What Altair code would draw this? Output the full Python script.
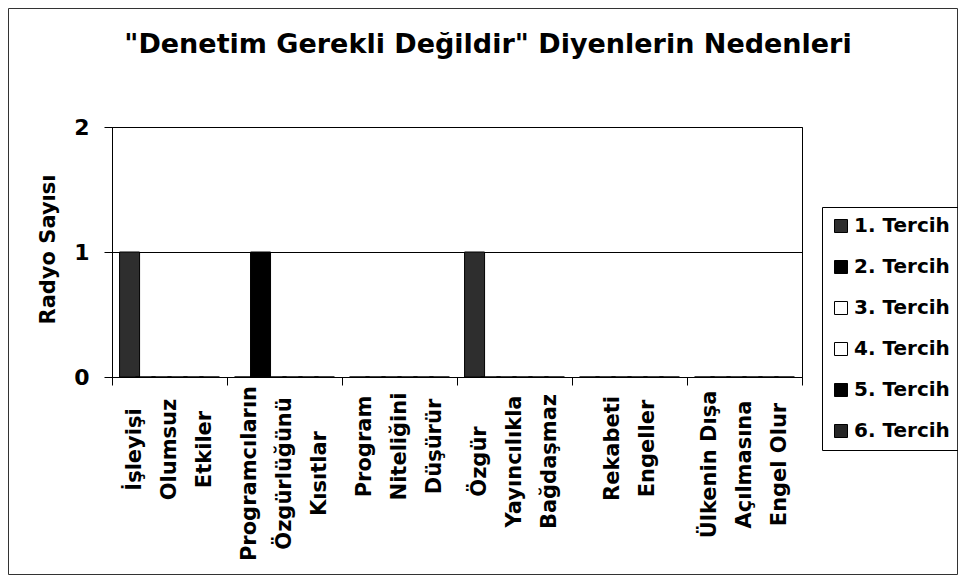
import altair as alt
import pandas as pd

FONT = "DejaVu Sans"

categories = [
    "İşleyişi|Olumsuz|Etkiler",
    "Programcıların|Özgürlüğünü|Kısıtlar",
    "Program|Niteliğini|Düşürür",
    "Özgür|Yayıncılıkla|Bağdaşmaz",
    "Rekabeti|Engeller",
    "Ülkenin Dışa|Açılmasına|Engel Olur",
]
series = ["1. Tercih", "2. Tercih", "3. Tercih", "4. Tercih", "5. Tercih", "6. Tercih"]
tercih_1 = [1, 0, 0, 1, 0, 0]
tercih_2 = [0, 1, 0, 0, 0, 0]
tercih_3 = [0, 0, 0, 0, 0, 0]
tercih_4 = [0, 0, 0, 0, 0, 0]
tercih_5 = [0, 0, 0, 0, 0, 0]
tercih_6 = [0, 0, 0, 0, 0, 0]
series_values = [tercih_1, tercih_2, tercih_3, tercih_4, tercih_5, tercih_6]
colors = ["#2e2e2e", "#000000", "#ffffff", "#ffffff", "#000000", "#262626"]

rows = []
for s, vals in zip(series, series_values):
    for c, v in zip(categories, vals):
        rows.append({"kategori": c, "tercih": s, "sayi": v})
df = pd.DataFrame(rows)

LINE_H = 35
# label padding per category (style), so that each block sits like the original
label_pads = [64, 88, 61, 76, 63, 79]
pad_cond = {
    "condition": [
        {"test": "datum.value === '%s'" % c, "value": p}
        for c, p in zip(categories, label_pads)
    ],
    "value": 70,
}
# shift multi-line blocks so they are centred on their category
off_cond = {
    "condition": [
        {"test": "datum.value === '%s'" % c, "value": -(len(c.split("|")) - 1) * LINE_H / 2}
        for c in categories
    ],
    "value": 0,
}

bars = alt.Chart(df).mark_bar(width=20, stroke="black", strokeWidth=1).encode(
    x=alt.X(
        "kategori:N",
        sort=categories,
        scale=alt.Scale(paddingInner=0, paddingOuter=0),
        axis=alt.Axis(
            title=None,
            labelAngle=270,
            labelAlign="center",
            labelBaseline="middle",
            labelExpr="split(datum.label, '|')",
            labelFont=FONT,
            labelFontSize=21,
            labelFontWeight="bold",
            labelColor="black",
            labelLineHeight=LINE_H,
            labelLimit=0,
            labelPadding=pad_cond,
            labelOffset=off_cond,
            tickBand="extent",
            tickSize=8,
            tickColor="black",
            domainColor="black",
            grid=False,
        ),
    ),
    xOffset=alt.XOffset(
        "tercih:N", sort=series, scale=alt.Scale(paddingInner=0, paddingOuter=0.6)
    ),
    y=alt.Y(
        "sayi:Q",
        scale=alt.Scale(domain=[0, 2], nice=False),
        axis=alt.Axis(
            tickCount=2,
            tickMinStep=1,
            labelOverlap=False,
            title="Radyo Sayısı",
            titleFont=FONT,
            titleFontSize=21,
            titleFontWeight="bold",
            titleColor="black",
            titleAngle=270,
            titleAlign="center",
            titleBaseline="middle",
            titleX=-64,
            titleY=122,
            labelFont=FONT,
            labelFontSize=22,
            labelFontWeight="bold",
            labelColor="black",
            labelPadding=15,
            tickSize=8,
            tickColor="black",
            domainColor="black",
            grid=True,
            gridColor="black",
            gridWidth=1,
            gridOpacity=1,
        ),
    ),
    color=alt.Color(
        "tercih:N",
        sort=series,
        scale=alt.Scale(domain=series, range=colors),
        legend=alt.Legend(
            title=None,
            orient="none",
            legendX=710,
            legendY=80,
            strokeColor="black",
            padding=9,
            symbolType="square",
            symbolSize=169,
            symbolStrokeColor="black",
            symbolStrokeWidth=1,
            symbolOpacity=1,
            labelFont=FONT,
            labelFontSize=20,
            labelFontWeight="bold",
            labelColor="black",
            labelOffset=3,
            rowPadding=21,
        ),
    ),
)

frame = alt.Chart(pd.DataFrame({"f": [0]})).mark_rect(
    fillOpacity=0, stroke="#333333", strokeWidth=1
).encode(
    x=alt.value(-103.5), x2=alt.value(845.5), y=alt.value(-118.5), y2=alt.value(447.5)
)

chart = alt.layer(bars, frame).properties(
    width=690,
    height=250,
    padding={"left": 104, "top": 119, "right": 156, "bottom": 199},
    autosize=alt.AutoSizeParams(type="none"),
    title=alt.TitleParams(
        text='"Denetim Gerekli Değildir" Diyenlerin Nedenleri',
        font=FONT,
        fontSize=27,
        fontWeight="bold",
        color="black",
        anchor="middle",
        frame="group",
        dx=31,
        offset=-51,
    ),
).configure_view(stroke="black", strokeWidth=1)

chart.save("out.html", embed_options={"renderer": "svg", "actions": False})
